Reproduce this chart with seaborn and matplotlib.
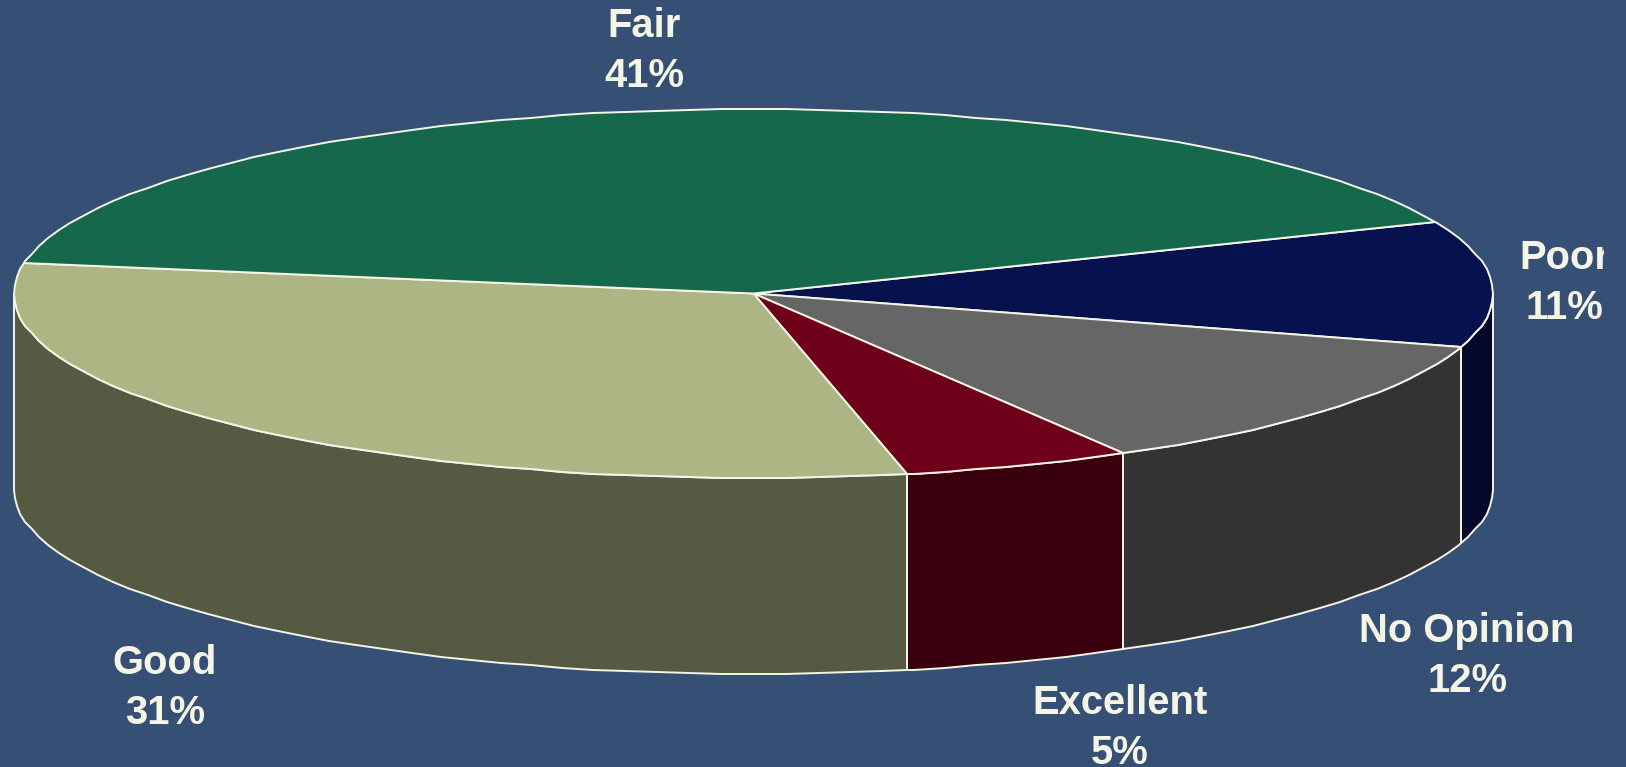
import numpy as np
import matplotlib
matplotlib.use("Agg")
import matplotlib.pyplot as plt
from matplotlib.transforms import Bbox
import seaborn as sns

categories = ["Poor", "No Opinion", "Excellent", "Good", "Fair"]
shares = [11, 12, 5, 31, 41]
top_colors = ["#06114E", "#666666", "#6E0019", "#AEB585", "#15684C"]
side_colors = ["#03082A", "#333333", "#3A000E", "#575A42", "#0B3426"]
label_centres = [1564.5, 1467, 1120, 165, 644]
label_baselines = [269, 642, 713.5, 674, 37]

BG = "#364F75"
INK = "#F5F5E6"
W, H = 1626, 767
CX, CY, A, B, DEPTH = 753.5, 293.5, 739.5, 184.5, 196
START = -22.8

sns.set_theme(style="white", rc={"figure.facecolor": BG, "axes.facecolor": BG})
plt.rcParams["font.family"] = ["Liberation Sans", "DejaVu Sans"]

fig = plt.figure(figsize=(W / 100, H / 100), dpi=100)
ax = fig.add_axes([0, 0, 1, 1])
ax.set_xlim(0, W)
ax.set_ylim(H, 0)
ax.axis("off")


def rim(phi_deg):
    """Outline points of the tilted disc, slightly coarse like the original."""
    p = np.radians(phi_deg)
    return np.round(CX + A * np.cos(p)), np.round(CY + B * np.sin(p))


def arc(a0, a1):
    step = 2.5
    lo = np.ceil(a0 / step) * step
    hi = np.floor(a1 / step) * step
    mids = np.arange(lo, hi + 0.01, step)
    mids = mids[(mids > a0) & (mids < a1)]
    return np.concatenate([[a0], mids, [a1]])


edges = START + np.cumsum([0] + shares) * 3.6
stroke = dict(edgecolor=INK, linewidth=1.4, joinstyle="round")

# Side walls: only the part of the rim facing the viewer (0..180 degrees)
for s, e, c in zip(edges[:-1], edges[1:], side_colors):
    a0, a1 = max(s, 0.0), min(e, 180.0)
    if a1 <= a0:
        continue
    x, y = rim(arc(a0, a1))
    ax.fill(np.r_[x, x[::-1]], np.r_[y, y[::-1] + DEPTH], facecolor=c, zorder=2, **stroke)

# Top faces
for s, e, c in zip(edges[:-1], edges[1:], top_colors):
    x, y = rim(arc(s, e))
    ax.fill(np.r_[CX, x], np.r_[CY, y], facecolor=c, zorder=3, **stroke)

# Labels
for name, val, xc, yb in zip(categories, shares, label_centres, label_baselines):
    for line, dy in ((name, 0), (f"{val}%", 50)):
        t = ax.text(xc, yb + dy, line, color=INK, fontsize=28.8, fontweight="bold",
                    ha="center", va="baseline", zorder=5)
        if name == "Poor":
            t.set_clip_on(True)
            t.set_clip_box(Bbox([[0, 0], [1604, H]]))

fig.savefig("out.png", dpi=100, facecolor=BG)
